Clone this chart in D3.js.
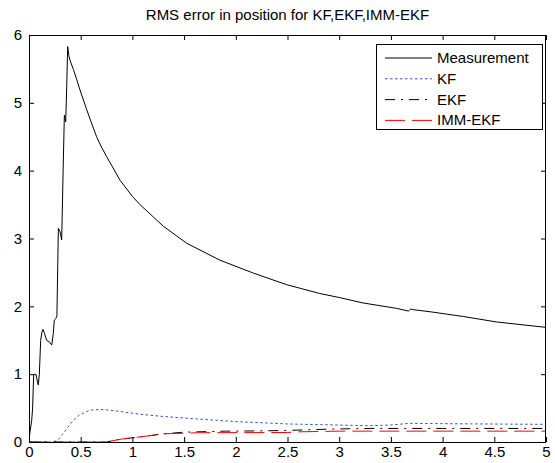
<!DOCTYPE html>
<html>
<head>
<meta charset="utf-8">
<script src="https://cdn.jsdelivr.net/npm/d3@7/dist/d3.min.js"></script>
<style>
  html, body { margin: 0; padding: 0; background: #fff; }
  svg { display: block; }
  text { font-family: "Liberation Sans", Arial, sans-serif; fill: #000; }
</style>
</head>
<body>
<svg id="chart" width="555" height="463"></svg>
<script>
const title = "RMS error in position for KF,EKF,IMM-EKF";
const xTicks = [0, 0.5, 1, 1.5, 2, 2.5, 3, 3.5, 4, 4.5, 5];
const yTicks = [0, 1, 2, 3, 4, 5, 6];
const seriesNames = ["Measurement", "KF", "EKF", "IMM-EKF"];

const measX = [0, 0.01, 0.026, 0.035, 0.045, 0.067, 0.08, 0.09, 0.1, 0.113, 0.125, 0.135, 0.15, 0.17, 0.2, 0.22, 0.235, 0.245, 0.26, 0.27, 0.278, 0.284, 0.3, 0.316, 0.322, 0.33, 0.342, 0.355, 0.365, 0.374, 0.385, 0.396, 0.43, 0.46, 0.493, 0.558, 0.6, 0.654, 0.7, 0.75, 0.88, 1.0, 1.073, 1.3, 1.525, 1.847, 2.17, 2.49, 2.81, 3.0, 3.23, 3.556, 3.67, 3.69, 3.72, 3.88, 4.2, 4.52, 5.0];
const measY = [0.05, 0.15, 0.32, 0.5, 0.99, 1.0, 0.9, 0.84, 1.0, 1.5, 1.62, 1.66, 1.6, 1.5, 1.47, 1.43, 1.6, 1.8, 1.82, 1.86, 2.6, 3.15, 3.1, 2.98, 3.4, 4.0, 4.82, 4.72, 5.25, 5.83, 5.7, 5.63, 5.49, 5.35, 5.19, 4.9, 4.72, 4.5, 4.35, 4.21, 3.86, 3.62, 3.5, 3.18, 2.93, 2.68, 2.49, 2.32, 2.19, 2.13, 2.05, 1.97, 1.93, 1.96, 1.95, 1.92, 1.85, 1.77, 1.69];

const kfX = [0, 0.235, 0.28, 0.33, 0.4, 0.45, 0.49, 0.59, 0.687, 0.78, 0.88, 1.07, 1.27, 1.62, 2.01, 2.52, 3.0, 3.3, 3.49, 3.68, 4.0, 4.5, 5.0];
const kfY = [0, 0, 0.03, 0.12, 0.27, 0.35, 0.4, 0.47, 0.48, 0.47, 0.45, 0.41, 0.38, 0.34, 0.3, 0.265, 0.25, 0.24, 0.25, 0.275, 0.27, 0.265, 0.26];

const ekfX = [0, 0.75, 0.88, 1.1, 1.3, 1.5, 1.9, 2.3, 2.6, 2.9, 3.3, 4.0, 5.0];
const ekfY = [0, 0, 0.04, 0.08, 0.12, 0.145, 0.16, 0.165, 0.175, 0.19, 0.2, 0.2, 0.2];

const immX = [0, 0.75, 0.88, 1.1, 1.3, 1.5, 1.65, 2.5, 2.6, 3.0, 4.0, 5.0];
const immY = [0, 0, 0.04, 0.08, 0.12, 0.13, 0.137, 0.14, 0.15, 0.16, 0.16, 0.16];

const svg = d3.select("#chart");
const L = 29, R = 546, T = 35, B = 442;
const x = d3.scaleLinear().domain([0, 5]).range([L, R]);
const y = d3.scaleLinear().domain([0, 6]).range([B, T]);

const series = [
  {name: seriesNames[0], xs: measX, ys: measY, color: "#000", dash: null},
  {name: seriesNames[1], xs: kfX, ys: kfY, color: "#3355cc", dash: "2.5,2.5"},
  {name: seriesNames[2], xs: ekfX, ys: ekfY, color: "#000", dash: "10,6,2,6"},
  {name: seriesNames[3], xs: immX, ys: immY, color: "#ff0000", dash: "20,7"}
];

svg.append("clipPath").attr("id", "clip").append("rect")
  .attr("x", L).attr("y", T).attr("width", R - L).attr("height", B - T);

const line = d3.line().x(d => x(d[0])).y(d => y(d[1]));
const g = svg.append("g").attr("clip-path", "url(#clip)");
series.forEach(s => {
  const pts = s.xs.map((v, i) => [v, s.ys[i]]);
  g.append("path").datum(pts).attr("d", line)
    .attr("fill", "none").attr("stroke", s.color).attr("stroke-width", 1)
    .attr("stroke-dasharray", s.dash);
});

const tickLen = 5;
const axB = svg.append("g").attr("transform", `translate(0,${B})`)
  .call(d3.axisBottom(x).tickValues(xTicks).tickSizeInner(-tickLen).tickSizeOuter(0).tickPadding(4).tickFormat(d3.format("")));
const axT = svg.append("g").attr("transform", `translate(0,${T})`)
  .call(d3.axisTop(x).tickValues(xTicks).tickSizeInner(-tickLen).tickSizeOuter(0).tickFormat(""));
const axL = svg.append("g").attr("transform", `translate(${L},0)`)
  .call(d3.axisLeft(y).tickValues(yTicks).tickSizeInner(-tickLen).tickSizeOuter(0).tickPadding(7).tickFormat(d3.format("d")));
const axR = svg.append("g").attr("transform", `translate(${R},0)`)
  .call(d3.axisRight(y).tickValues(yTicks).tickSizeInner(-tickLen).tickSizeOuter(0).tickFormat(""));
[axB, axT, axL, axR].forEach(a => {
  a.select(".domain").remove();
  a.selectAll("line").attr("stroke", "#000");
  a.selectAll("text").style("font-family", "'Liberation Sans', Arial, sans-serif").style("font-size", "15px").attr("fill", "#000");
});
svg.append("rect").attr("x", L + 0.5).attr("y", T + 0.5).attr("width", R - L - 1).attr("height", B - T)
  .attr("fill", "none").attr("stroke", "#000").attr("stroke-width", 1);

svg.append("text").attr("x", (L + R) / 2).attr("y", 20).attr("text-anchor", "middle")
  .style("font-size", "15px").text(title);

const lg = svg.append("g");
lg.append("rect").attr("x", 376.5).attr("y", 44.5).attr("width", 166).attr("height", 85)
  .attr("fill", "#fff").attr("stroke", "#000");
series.forEach((s, i) => {
  const yy = 58 + i * 20.8;
  lg.append("line").attr("x1", 385).attr("x2", 432).attr("y1", yy).attr("y2", yy)
    .attr("stroke", s.color).attr("stroke-width", 1).attr("stroke-dasharray", s.dash);
  lg.append("text").attr("x", 437).attr("y", yy + 5).style("font-size", "15px").text(s.name);
});
</script>
</body>
</html>
